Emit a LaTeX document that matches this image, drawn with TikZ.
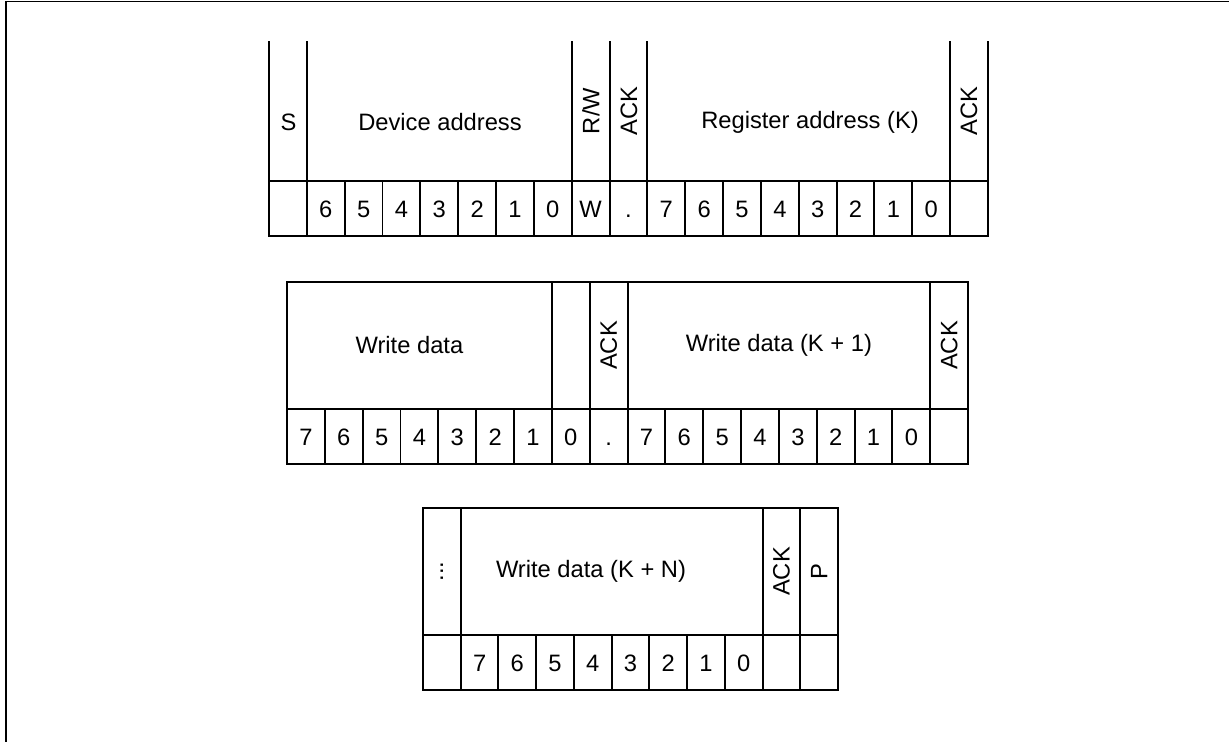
\documentclass[tikz,border=0pt]{standalone}
\usepackage{fontspec}
\setmainfont{Liberation Sans}
\usepackage{tikz}
\usetikzlibrary{positioning}

\begin{document}
\begin{tikzpicture}[x=0.02cm, y=-0.02cm, line width=1.1pt,
      every node/.style={font=\fontsize{13.5}{16}\selectfont},
      bit/.style={draw, minimum width=0.7568cm, minimum height=1.1cm, inner sep=0pt,
          outer sep=0pt, text height=9.7pt, text depth=0pt},
      hdr/.style={draw, minimum width=#1*0.7568cm, minimum height=2.54cm,
          inner sep=0pt, outer sep=0pt, anchor=south west},
    ]
    \useasboundingbox (0,0) rectangle (1229,742);

    % Outer frame (top and left edge only)
    \draw (6,742) -- (6,1.5) -- (1229,1.5);

    % Row 1: start, device address, register address
    \foreach \i/\lab in {0/{},1/6,2/5,3/4,4/3,5/2,6/1,7/0,8/W,9/.,
      10/7,11/6,12/5,13/4,14/3,15/2,16/1,17/0,18/{}}{
      \node[bit] (a\i) at ({269+37.84*(\i+0.5)}, 208.5) {\lab};
      }
    \foreach \i in {0,1,8,9,10,18}{
      \draw (a\i.north west) -- ++(0,-140);
      }
    \draw (a18.north east) -- ++(0,-140);
    \node (start) at (288.5,122) {S};
    \node (devaddr) at (440,122) {Device address};
    \node[rotate=90] (rw) at (591,111) {R/W};
    \node[rotate=90] (ack1) at (629,111) {ACK};
    \node (regaddr) at (810,122) {Register address (K)};
    \node[rotate=90] (ack2) at (969,111) {ACK};

    % Row 2: write data K, K+1
    \foreach \i/\lab in {0/7,1/6,2/5,3/4,4/3,5/2,6/1,7/0,8/.,
      9/7,10/6,11/5,12/4,13/3,14/2,15/1,16/0,17/{}}{
      \node[bit] (b\i) at ({287+37.84*(\i+0.5)}, 436.5) {\lab};
      }
    \node[hdr=7] (wd) at (b0.north west) {\hspace*{-0.4cm}Write data};
    \node[hdr=1] (gap) at (b7.north west) {};
    \node[hdr=1] (ack3) at (b8.north west) {\rotatebox{90}{ACK}};
    \node[hdr=8] (wd1) at (b9.north west) {Write data (K + 1)};
    \node[hdr=1] (ack4) at (b17.north west) {\rotatebox{90}{ACK}};

    % Row 3: last write data and stop
    \foreach \i/\lab in {0/{},1/7,2/6,3/5,4/4,5/3,6/2,7/1,8/0,9/{},10/{}}{
      \node[bit] (c\i) at ({423+37.73*(\i+0.5)}, 662.5) {\lab};
      }
    \node[hdr=1] (dots) at (c0.north west) {\rotatebox{90}{...}};
    \node[hdr=8] (wdn) at (c1.north west) {\hspace*{-0.84cm}Write data (K + N)};
    \node[hdr=1] (ack5) at (c9.north west) {\rotatebox{90}{ACK}};
    \node[hdr=1] (stop) at (c10.north west) {\rotatebox{90}{P}};
  \end{tikzpicture}
\end{document}
